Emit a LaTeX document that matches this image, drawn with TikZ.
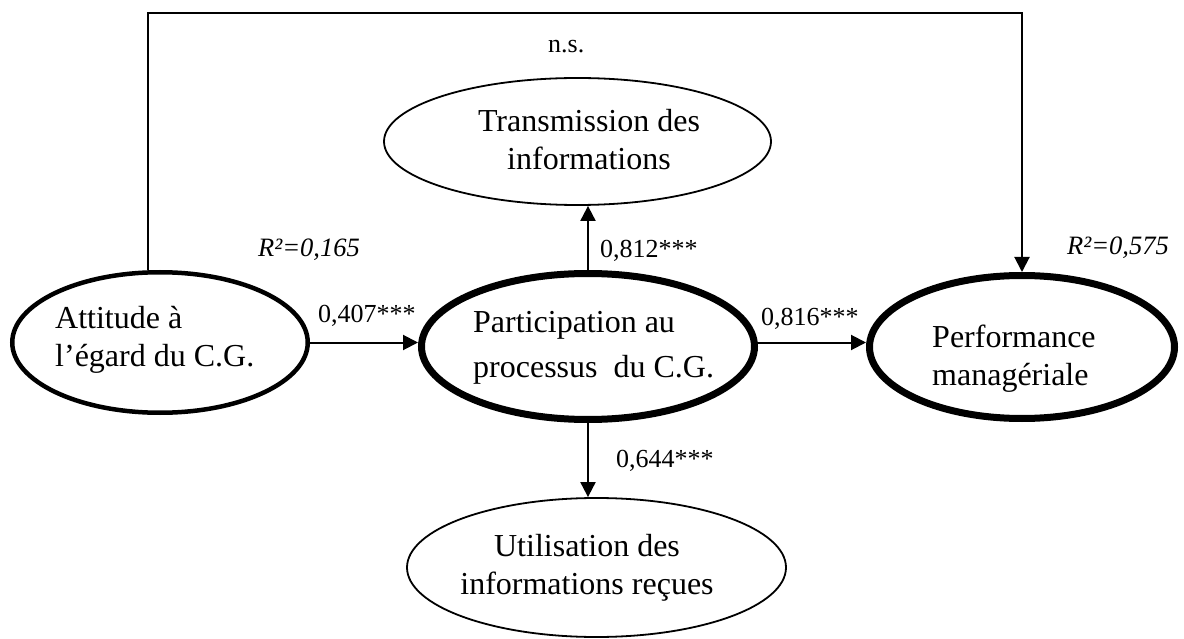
\documentclass[tikz,border=0pt]{standalone}
\usepackage{fontspec}
\setmainfont{Liberation Serif}
\usetikzlibrary{shapes.geometric,arrows.meta}
\begin{document}
\begin{tikzpicture}[x=1pt,y=-1pt,
  ell/.style={draw, ellipse, inner sep=0pt},
  ellthin/.style={ell, line width=1.8pt},
  ellmid/.style={ell, line width=4.5pt},
  ellthick/.style={ell, line width=7pt},
  txt/.style={inner sep=0pt, font=\fontsize{32}{38}\selectfont},
  lbl/.style={inner sep=0pt, anchor=base west, font=\fontsize{26}{30}\selectfont},
  rsq/.style={inner sep=0pt, anchor=base west, font=\fontsize{26.5}{30}\selectfont\itshape},
  arr/.style={line width=2pt, -{Triangle[length=15pt,width=15pt]}}]
\useasboundingbox (0,0) rectangle (1184,639);

% ellipses
\node[ellmid, minimum width=295.5pt, minimum height=140.5pt] (att) at (160,342.5) {};
\node[ellthick, minimum width=333pt, minimum height=146pt] (part) at (588,346.5) {};
\node[ellthick, minimum width=305pt, minimum height=143pt] (perf) at (1022,347) {};
\node[ellthin, minimum width=387pt, minimum height=127pt] (trans) at (577.5,141.5) {};
\node[ellthin, minimum width=379pt, minimum height=139pt] (util) at (596.5,567.5) {};

% texts
\node[txt, align=left, anchor=west] (attT) at (55,340) {Attitude à\\l’égard du C.G.};
\node[txt, align=left, anchor=west, font=\fontsize{32}{45}\selectfont] (partT) at (473,348) {Participation au\\processus\ \ du C.G.};
\node[txt, align=left, anchor=west] (perfT) at (932,358.5) {Performance\\managériale};
\node[txt, align=center] (transT) at (589,140) {Transmission des\\informations};
\node[txt, align=center] (utilT) at (587,567.5) {Utilisation des\\informations reçues};

% connectors
\coordinate (topL) at (148,12.7);
\draw[arr] (att.east) -- (att.east -| part.west);
\draw[arr] (att.east -| part.east) -- (att.east -| perf.west);
\draw[arr] (part.north) -- (part.north |- trans.south);
\draw[arr] (part.south) -- (part.south |- util.north);
\draw[arr] (att.north -| topL) -- (topL) -| (perf.north);

% labels
\node[lbl] (l407) at (318,322) {0,407***};
\node[lbl] (l816) at (761,325) {0,816***};
\node[lbl] (l812) at (600,258) {0,812***};
\node[lbl] (l644) at (616,467) {0,644***};
\node[lbl] (lns) at (548,53) {n.s.};
\node[rsq] (r165) at (258,257) {R²=0,165};
\node[rsq] (r575) at (1067,255) {R²=0,575};
\end{tikzpicture}
\end{document}
